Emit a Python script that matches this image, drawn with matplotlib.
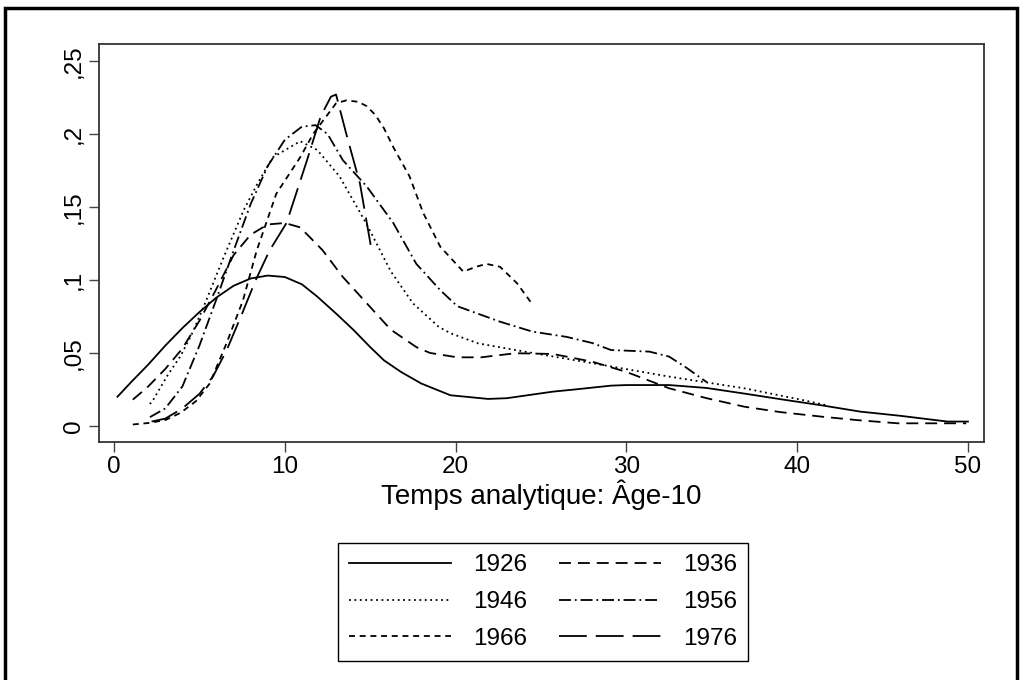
import matplotlib
matplotlib.use("Agg")
import matplotlib.pyplot as plt
from matplotlib.patches import Rectangle
from matplotlib.ticker import FixedLocator, FixedFormatter

plt.rcParams['font.family'] = ['Liberation Sans', 'DejaVu Sans']
plt.rcParams['lines.scale_dashes'] = False

# ---- data ----
x1926 = [0.2, 1, 2, 3, 4, 5, 6, 7, 8, 9, 10, 11, 11.9, 13, 14, 15, 15.8, 16.8, 18, 19.7,
         20.6, 21.9, 23, 25.7, 27, 29.1, 30, 32.5, 34.7, 37, 39.2, 41.5, 43.7, 46, 48.8, 50]
y1926 = [0.020, 0.030, 0.042, 0.055, 0.067, 0.078, 0.088, 0.096, 0.101, 0.103, 0.102, 0.097,
         0.0886, 0.077, 0.066, 0.054, 0.045, 0.037, 0.029, 0.021, 0.020, 0.0185, 0.019, 0.0235,
         0.025, 0.0276, 0.028, 0.028, 0.026, 0.022, 0.018, 0.014, 0.0098, 0.007, 0.003, 0.003]

x1936 = [1.1, 2, 3, 4, 5, 6, 7, 8, 9, 10, 10.9, 12.2, 13.4, 14.8, 16.2, 17.7, 18.5, 20.1, 21.5,
         23.5, 25.7, 28, 30, 32.5, 34.7, 36.9, 39, 41.4, 43.5, 45.9, 49.9]
y1936 = [0.018, 0.027, 0.039, 0.053, 0.072, 0.094, 0.117, 0.131, 0.138, 0.139, 0.136, 0.1205,
         0.102, 0.084, 0.066, 0.054, 0.050, 0.047, 0.047, 0.0498, 0.0493, 0.044, 0.037, 0.0258,
         0.019, 0.0132, 0.0095, 0.0064, 0.004, 0.0018, 0.0018]

x1946 = [2.1, 2.3, 3.1, 3.9, 4.6, 5.4, 6.4, 7.6, 8.4, 9.3, 10.9, 11.9, 13.2, 14.8, 16.2, 17.5,
         19, 19.7, 21.3, 23.5, 28, 32.5, 36.9, 40.3, 41.8]
y1946 = [0.015, 0.018, 0.034, 0.048, 0.064, 0.086, 0.115, 0.148, 0.166, 0.184, 0.195, 0.189,
         0.171, 0.138, 0.106, 0.084, 0.068, 0.0635, 0.0566, 0.052, 0.043, 0.0338, 0.0258, 0.0178,
         0.014]

x1956 = [2.1, 3, 4, 5, 6, 7, 8, 9, 10, 11, 11.8, 12.5, 13.4, 14.8, 16.35, 17.7, 19.1, 20.1,
         22.6, 24.5, 26.5, 28, 29.1, 31.35, 32.5, 33.5, 34.7]
y1956 = [0.006, 0.012, 0.027, 0.055, 0.087, 0.120, 0.152, 0.178, 0.196, 0.205, 0.206, 0.200,
         0.182, 0.164, 0.139, 0.111, 0.093, 0.082, 0.0714, 0.0646, 0.061, 0.0568, 0.052, 0.0509,
         0.0475, 0.040, 0.030]

x1966 = [1.1, 2, 3, 3.9, 4.8, 5.6, 6.6, 7.55, 8.35, 9.5, 10.9, 11.66, 13, 13.6, 14.3, 14.8,
         15.3, 15.8, 16.35, 17.3, 18.1, 19.1, 20.45, 21.2, 21.8, 22.6, 23.6, 24.45]
y1966 = [0.001, 0.002, 0.004, 0.009, 0.017, 0.029, 0.057, 0.086, 0.120, 0.159, 0.184, 0.200,
         0.221, 0.223, 0.222, 0.219, 0.213, 0.204, 0.191, 0.171, 0.146, 0.1228, 0.1057, 0.109,
         0.111, 0.109, 0.0977, 0.084]

x1976 = [2.2, 3, 4, 5, 5.8, 6.6, 7.5, 8.3, 9.1, 10.1, 11.3, 12.1, 12.7, 13.0, 13.6, 14.4, 15.1]
y1976 = [0.003, 0.005, 0.012, 0.022, 0.034, 0.052, 0.077, 0.100, 0.120, 0.139, 0.182, 0.212,
         0.2255, 0.227, 0.200, 0.166, 0.119]

cohorts = ['1926', '1936', '1946', '1956', '1966', '1976']
xs = [x1926, x1936, x1946, x1956, x1966, x1976]
ys = [y1926, y1936, y1946, y1956, y1966, y1976]

yticks = [0, 0.05, 0.1, 0.15, 0.2, 0.25]
yticklabels = ['0', ',05', ',1', ',15', ',2', ',25']
xticks = [0, 10, 20, 30, 40, 50]
xticklabels = ['0', '10', '20', '30', '40', '50']
xlabel = 'Temps analytique: Âge-10'

# ---- styles ----
styles = {
    '1926': dict(linestyle='-'),
    '1936': dict(dashes=(8.6, 5.0)),
    '1946': dict(dashes=(1.3, 2.6)),
    '1956': dict(dashes=(8.6, 2.8, 1.3, 2.8)),
    '1966': dict(dashes=(4.3, 3.4)),
    '1976': dict(dashes=(20.0, 6.5)),
}

fig = plt.figure(figsize=(10.21, 6.80), dpi=100)
ax = fig.add_axes([99 / 1021, 1 - 442 / 680, (984 - 99) / 1021, (442 - 44) / 680])

handles = {}
for name, x, y in zip(cohorts, xs, ys):
    ln, = ax.plot(x, y, color='black', lw=1.3, label=name, **styles[name])
    handles[name] = ln

ax.set_xlim(-0.88, 50.94)
ax.set_ylim(-0.011, 0.2616)
ax.xaxis.set_major_locator(FixedLocator(xticks))
ax.xaxis.set_major_formatter(FixedFormatter(xticklabels))
ax.yaxis.set_major_locator(FixedLocator(yticks))
ax.yaxis.set_major_formatter(FixedFormatter(yticklabels))
ax.tick_params(axis='both', direction='out', length=7, width=1.0, color='#444444',
               labelsize=17.5, pad=3)
for lab in ax.get_yticklabels():
    lab.set_rotation(90)
    lab.set_verticalalignment('center')
for sp in ax.spines.values():
    sp.set_color('#333333')
    sp.set_linewidth(1.3)
ax.set_xlabel(xlabel, fontsize=20, labelpad=1)

order = ['1926', '1946', '1966', '1936', '1956', '1976']
leg = fig.legend([handles[k] for k in order], order, ncol=2, loc='center',
                 bbox_to_anchor=(543 / 1021, 1 - 602 / 680), fontsize=17.5,
                 handlelength=4.2, handletextpad=0.9, columnspacing=1.3,
                 labelspacing=0.6, borderpad=0.45, fancybox=False, framealpha=1)
leg.get_frame().set_edgecolor('black')
leg.get_frame().set_linewidth(1.0)

fig.patches.append(Rectangle((0.005, -0.02), 0.991, 1.008, transform=fig.transFigure,
                             fill=False, edgecolor='black', linewidth=2.5))

fig.savefig('out.png', dpi=100, facecolor='white')
